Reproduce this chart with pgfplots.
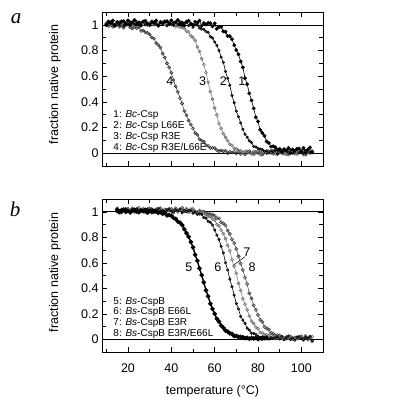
\documentclass[border=0pt]{standalone}
\usepackage{fontspec}
\setmainfont{Liberation Sans}
\newfontfamily\panelfont{Liberation Serif}
\usepackage{pgfplots}
\pgfplotsset{compat=1.18}
\pgfplotsset{
  myaxis/.style={
    scale only axis, width=221pt, height=154pt,
    xmin=8, xmax=110, ymin=-0.1, ymax=1.1,
    xtick={20,40,60,80,100}, minor xtick={10,30,50,70,90},
    ytick={0,0.2,0.4,0.6,0.8,1}, minor ytick={0.1,0.3,0.5,0.7,0.9},
    tick align=inside, major tick length=5pt, minor tick length=3.5pt,
    tick style={black, line width=0.5pt},
    axis line style={line width=0.7pt},
    /pgf/number format/assume math mode=true,
    ticklabel style={font=\fontsize{12.5}{14}\selectfont},
    xticklabel style={yshift=-8pt},
    label style={font=\fontsize{12.5}{14}\selectfont},
    ylabel={fraction native protein},
  },
  c1/.style={black, line width=0.6pt, mark=*, mark size=1.6pt, mark options={solid, fill=black}},
  c2/.style={black, line width=0.6pt, mark=*, mark size=1.2pt, mark options={fill=black!60}},
  c3/.style={black!55, line width=0.5pt, mark=o, mark size=1.5pt, mark options={line width=0.6pt}},
  c4/.style={black!80, line width=0.5pt, mark=o, mark size=1.5pt, mark options={line width=0.6pt}},
  c5/.style={black, line width=1.4pt, mark=*, mark size=1.5pt},
  c6/.style={black, line width=0.6pt, mark=*, mark size=1.2pt, mark options={fill=black!60}},
  c7/.style={black!55, line width=0.5pt, mark=o, mark size=1.5pt, mark options={line width=0.6pt}},
  c8/.style={black!75, line width=0.5pt, mark=o, mark size=1.6pt, mark options={line width=0.6pt}},
}
\begin{document}
\begin{tikzpicture}
\useasboundingbox (0,0) rectangle (396pt,-400pt);
\node[anchor=base, font=\panelfont\itshape\fontsize{21}{24}\selectfont] at (16pt,-23.3pt) {a};
\node[anchor=base, font=\panelfont\itshape\fontsize{21}{24}\selectfont] at (15pt,-216.7pt) {b};

\begin{axis}[myaxis, at={(102pt,-12pt)}, anchor=north west, xticklabels={},
  ylabel style={at={(axis description cs:-0.213,0.53)}, anchor=center}]
\draw[line width=0.6pt] (axis cs:8,0) -- (axis cs:110,0);
\draw[line width=0.6pt] (axis cs:8,1) -- (axis cs:110,1);
% curve 4
\addplot[c4] coordinates {(10,1.008)(11,0.992)(12,1.012)(13,0.985)(14,1.000)(15,1.013)(16,0.985)(17,0.995)(18,0.977)(19,0.998)(20,1.001)(21,0.981)(22,0.972)(23,0.985)(24,0.974)(25,0.982)(26,0.952)(27,0.957)(28,0.942)(29,0.938)(30,0.925)(31,0.901)(32,0.893)(33,0.858)(34,0.842)(35,0.821)(36,0.776)(37,0.746)(38,0.700)(39,0.668)(40,0.626)(41,0.570)(42,0.520)(43,0.478)(44,0.428)(45,0.387)(46,0.328)(47,0.295)(48,0.254)(49,0.223)(50,0.194)(51,0.157)(52,0.143)(53,0.108)(54,0.098)(55,0.089)(56,0.062)(57,0.057)(58,0.040)(59,0.042)(60,0.040)(61,0.024)(62,0.016)(63,0.022)(64,0.015)(65,0.019)(66,0.000)(67,0.011)(68,0.005)(69,0.010)(70,-0.002)(71,0.013)(72,-0.006)(73,0.004)(74,-0.010)(75,0.006)(76,0.015)(77,-0.002)(78,-0.008)(79,0.009)(80,0.002)(81,0.016)(82,-0.012)(83,0.007)(84,0.000)(85,0.011)(86,0.012)(87,-0.004)(88,0.017)(89,-0.008)(90,0.006)(91,0.020)(92,-0.005)(93,0.005)(94,-0.010)(95,0.011)(96,0.016)(97,0.000)(98,-0.006)(99,0.010)(100,0.004)(101,0.018)(102,-0.012)(103,0.009)(104,0.002)(105,0.013)};
% curve 3
\addplot[c3] coordinates {(10,1.014)(11,1.028)(12,1.001)(13,1.012)(14,0.995)(15,1.018)(16,1.023)(17,1.006)(18,1.000)(19,1.017)(20,1.010)(21,1.024)(22,0.993)(23,1.015)(24,1.007)(25,1.019)(26,1.020)(27,1.004)(28,1.025)(29,0.998)(30,1.014)(31,1.028)(32,1.001)(33,1.012)(34,0.995)(35,1.016)(36,1.021)(37,1.003)(38,0.996)(39,1.012)(40,1.001)(41,1.013)(42,0.986)(43,0.992)(44,0.981)(45,0.980)(46,0.971)(47,0.950)(48,0.945)(49,0.915)(50,0.900)(51,0.878)(52,0.828)(53,0.792)(54,0.736)(55,0.690)(56,0.629)(57,0.553)(58,0.480)(59,0.421)(60,0.352)(61,0.298)(62,0.229)(63,0.192)(64,0.151)(65,0.123)(66,0.098)(67,0.069)(68,0.062)(69,0.037)(70,0.035)(71,0.020)(72,0.020)(73,0.007)(74,0.015)(75,0.015)(76,0.004)(77,-0.003)(78,0.014)(79,0.006)(80,0.020)(81,-0.011)(82,0.011)(83,0.003)(84,0.015)(85,0.016)(86,0.000)(87,0.021)(88,-0.006)(89,0.010)(90,0.024)(91,-0.003)(92,0.008)(93,-0.009)(94,0.014)(95,0.019)(96,0.002)(97,-0.004)(98,0.013)(99,0.006)(100,0.020)(101,-0.011)(102,0.011)(103,0.003)(104,0.015)(105,0.016)};
% curve 2
\addplot[c2] coordinates {(10,0.995)(11,1.018)(12,1.023)(13,1.006)(14,1.000)(15,1.017)(16,1.010)(17,1.024)(18,0.993)(19,1.015)(20,1.007)(21,1.019)(22,1.020)(23,1.004)(24,1.025)(25,0.998)(26,1.014)(27,1.028)(28,1.001)(29,1.012)(30,0.995)(31,1.018)(32,1.023)(33,1.006)(34,1.000)(35,1.017)(36,1.010)(37,1.024)(38,0.993)(39,1.015)(40,1.007)(41,1.019)(42,1.020)(43,1.004)(44,1.025)(45,0.995)(46,1.010)(47,1.023)(48,0.994)(49,1.001)(50,0.981)(51,0.999)(52,0.999)(53,0.975)(54,0.966)(55,0.965)(56,0.948)(57,0.941)(58,0.908)(59,0.897)(60,0.866)(61,0.840)(62,0.801)(63,0.749)(64,0.708)(65,0.637)(66,0.584)(67,0.529)(68,0.450)(69,0.393)(70,0.327)(71,0.283)(72,0.236)(73,0.187)(74,0.147)(75,0.124)(76,0.096)(77,0.084)(78,0.052)(79,0.049)(80,0.036)(81,0.033)(82,0.027)(83,0.014)(84,0.018)(85,0.002)(86,0.019)(87,0.012)(88,0.026)(89,-0.005)(90,0.017)(91,0.009)(92,0.021)(93,0.022)(94,0.006)(95,0.027)(96,0.000)(97,0.016)(98,0.030)(99,0.003)(100,0.014)(101,-0.003)(102,0.020)(103,0.025)(104,0.008)(105,0.002)};
% curve 1
\addplot[c1] coordinates {(10,1.002)(11,1.024)(12,1.015)(13,1.033)(14,0.993)(15,1.022)(16,1.011)(17,1.027)(18,1.028)(19,1.007)(20,1.035)(21,0.999)(22,1.020)(23,1.038)(24,1.003)(25,1.018)(26,0.995)(27,1.025)(28,1.032)(29,1.010)(30,1.002)(31,1.024)(32,1.015)(33,1.033)(34,0.993)(35,1.022)(36,1.011)(37,1.027)(38,1.028)(39,1.007)(40,1.035)(41,0.999)(42,1.020)(43,1.038)(44,1.003)(45,1.018)(46,0.995)(47,1.025)(48,1.032)(49,1.010)(50,1.002)(51,1.024)(52,1.015)(53,1.033)(54,0.993)(55,1.014)(56,1.002)(57,1.015)(58,1.013)(59,0.988)(60,1.011)(61,0.969)(62,0.983)(63,0.984)(64,0.949)(65,0.946)(66,0.913)(67,0.911)(68,0.888)(69,0.842)(70,0.803)(71,0.770)(72,0.715)(73,0.669)(74,0.584)(75,0.537)(76,0.466)(77,0.411)(78,0.349)(79,0.280)(80,0.247)(81,0.182)(82,0.158)(83,0.134)(84,0.091)(85,0.079)(86,0.051)(87,0.054)(88,0.046)(89,0.025)(90,0.033)(91,0.009)(92,0.031)(93,0.022)(94,0.040)(95,0.000)(96,0.029)(97,0.018)(98,0.034)(99,0.035)(100,0.014)(101,0.042)(102,0.006)(103,0.027)(104,0.045)(105,0.010)};
\node[font=\fontsize{12.5}{14}\selectfont] at (axis cs:39.3,0.559) {4};
\node[font=\fontsize{12.5}{14}\selectfont] at (axis cs:54.4,0.56) {3};
\node[font=\fontsize{12.5}{14}\selectfont] at (axis cs:64,0.56) {2};
\node[font=\fontsize{12.5}{14}\selectfont] at (axis cs:72.6,0.56) {1};
\node[anchor=base west, font=\fontsize{10}{12}\selectfont] at (rel axis cs:0.036,0.313) {1: \textit{Bc}-Csp};
\node[anchor=base west, font=\fontsize{10}{12}\selectfont] at (rel axis cs:0.036,0.243) {2: \textit{Bc}-Csp L66E};
\node[anchor=base west, font=\fontsize{10}{12}\selectfont] at (rel axis cs:0.036,0.173) {3: \textit{Bc}-Csp R3E};
\node[anchor=base west, font=\fontsize{10}{12}\selectfont] at (rel axis cs:0.036,0.103) {4: \textit{Bc}-Csp R3E/L66E};
\end{axis}

\begin{axis}[myaxis, height=153pt, at={(102pt,-199pt)}, anchor=north west,
  xlabel={temperature (°C)},
  xlabel style={at={(axis description cs:0.5,-0.275)}, anchor=base},
  ylabel style={at={(axis description cs:-0.213,0.52)}, anchor=center}]
\draw[line width=0.6pt] (axis cs:8,0) -- (axis cs:110,0);
\draw[line width=0.6pt] (axis cs:8,1) -- (axis cs:110,1);
% curve 8
\addplot[c8] coordinates {(15,1.026)(16,0.995)(17,1.017)(18,1.009)(19,1.021)(20,1.022)(21,1.006)(22,1.027)(23,1.000)(24,1.016)(25,1.030)(26,1.003)(27,1.014)(28,0.997)(29,1.020)(30,1.025)(31,1.008)(32,1.002)(33,1.019)(34,1.012)(35,1.026)(36,0.995)(37,1.017)(38,1.009)(39,1.021)(40,1.022)(41,1.006)(42,1.027)(43,1.000)(44,1.016)(45,1.030)(46,1.003)(47,1.014)(48,0.997)(49,1.020)(50,1.021)(51,1.002)(52,0.995)(53,1.009)(54,0.999)(55,1.002)(56,0.983)(57,0.989)(58,0.978)(59,0.978)(60,0.969)(61,0.950)(62,0.948)(63,0.917)(64,0.908)(65,0.893)(66,0.852)(67,0.827)(68,0.784)(69,0.754)(70,0.709)(71,0.651)(72,0.594)(73,0.544)(74,0.483)(75,0.433)(76,0.360)(77,0.320)(78,0.267)(79,0.231)(80,0.192)(81,0.152)(82,0.135)(83,0.097)(84,0.085)(85,0.076)(86,0.049)(87,0.044)(88,0.028)(89,0.032)(90,0.028)(91,0.016)(92,0.009)(93,0.016)(94,0.011)(95,0.017)(96,0.002)(97,0.013)(98,0.008)(99,0.015)(100,0.020)(101,0.004)(102,0.025)(103,-0.002)(104,0.014)(105,-0.015)};
% curve 7
\addplot[c7] coordinates {(15,1.023)(16,1.006)(17,1.000)(18,1.017)(19,1.010)(20,1.024)(21,0.993)(22,1.015)(23,1.007)(24,1.019)(25,1.020)(26,1.004)(27,1.025)(28,0.998)(29,1.014)(30,1.028)(31,1.001)(32,1.012)(33,0.995)(34,1.018)(35,1.023)(36,1.006)(37,1.000)(38,1.017)(39,1.010)(40,1.024)(41,0.993)(42,1.015)(43,1.007)(44,1.019)(45,1.020)(46,1.004)(47,1.025)(48,0.998)(49,1.009)(50,1.013)(51,0.996)(52,0.999)(53,0.986)(54,0.993)(55,0.991)(56,0.975)(57,0.963)(58,0.961)(59,0.944)(60,0.935)(61,0.901)(62,0.889)(63,0.856)(64,0.829)(65,0.789)(66,0.736)(67,0.694)(68,0.624)(69,0.572)(70,0.517)(71,0.438)(72,0.383)(73,0.318)(74,0.275)(75,0.230)(76,0.182)(77,0.143)(78,0.123)(79,0.095)(80,0.083)(81,0.052)(82,0.050)(83,0.035)(84,0.034)(85,0.028)(86,0.015)(87,0.022)(88,0.006)(89,0.013)(90,0.019)(91,0.005)(92,0.011)(93,0.003)(94,0.014)(95,0.023)(96,0.006)(97,0.000)(98,0.017)(99,0.010)(100,0.024)(101,-0.007)(102,0.015)(103,0.007)(104,0.019)(105,0.020)};
% curve 6
\addplot[c6] coordinates {(15,0.999)(16,1.010)(17,0.993)(18,1.016)(19,1.021)(20,1.004)(21,0.998)(22,1.015)(23,1.008)(24,1.022)(25,0.991)(26,1.013)(27,1.005)(28,1.017)(29,1.018)(30,1.002)(31,1.023)(32,0.996)(33,1.012)(34,1.026)(35,0.999)(36,1.010)(37,0.993)(38,1.016)(39,1.021)(40,1.004)(41,0.998)(42,1.015)(43,1.008)(44,1.022)(45,0.991)(46,1.010)(47,1.000)(48,1.010)(49,1.008)(50,0.989)(51,0.999)(52,0.980)(53,0.982)(54,0.980)(55,0.955)(56,0.949)(57,0.925)(58,0.918)(59,0.896)(60,0.857)(61,0.817)(62,0.783)(63,0.729)(64,0.677)(65,0.600)(66,0.543)(67,0.471)(68,0.411)(69,0.346)(70,0.280)(71,0.238)(72,0.179)(73,0.150)(74,0.125)(75,0.086)(76,0.071)(77,0.048)(78,0.046)(79,0.038)(80,0.023)(81,0.014)(82,0.019)(83,0.011)(84,0.017)(85,0.001)(86,0.011)(87,0.006)(88,0.013)(89,0.018)(90,0.002)(91,0.023)(92,-0.004)(93,0.012)(94,0.026)(95,-0.001)(96,0.010)(97,-0.007)(98,0.016)(99,0.021)(100,0.004)(101,-0.002)(102,0.015)(103,0.008)(104,0.022)(105,-0.009)};
% curve 5
\addplot[c5] coordinates {(15,1.015)(16,0.997)(17,1.008)(18,1.018)(19,0.999)(20,1.006)(21,0.995)(22,1.011)(23,1.014)(24,1.002)(25,0.998)(26,1.010)(27,1.005)(28,1.015)(29,0.993)(30,1.005)(31,0.998)(32,1.005)(33,1.004)(34,0.991)(35,0.998)(36,0.984)(37,0.993)(38,0.971)(39,0.975)(40,0.969)(41,0.951)(42,0.944)(43,0.923)(44,0.914)(45,0.895)(46,0.864)(47,0.833)(48,0.804)(49,0.763)(50,0.721)(51,0.663)(52,0.616)(53,0.556)(54,0.503)(55,0.446)(56,0.383)(57,0.337)(58,0.279)(59,0.239)(60,0.199)(61,0.161)(62,0.139)(63,0.107)(64,0.090)(65,0.068)(66,0.060)(67,0.046)(68,0.042)(69,0.026)(70,0.025)(71,0.018)(72,0.018)(73,0.016)(74,0.008)(75,0.011)(76,0.004)(77,0.010)(78,0.006)(79,0.011)(80,0.000)(81,0.008)(82,0.005)(83,0.009)(84,0.010)};
\node[font=\fontsize{12.5}{14}\selectfont] at (axis cs:48.1,0.5625) {5};
\node[font=\fontsize{12.5}{14}\selectfont] at (axis cs:61.5,0.5625) {6};
\node[font=\fontsize{12.5}{14}\selectfont] at (axis cs:77.3,0.5625) {8};
\node[font=\fontsize{12.5}{14}\selectfont] at (axis cs:74.8,0.681) {7};
\draw[line width=0.5pt] (axis cs:74,0.648) -- (axis cs:68.3,0.575);
\node[anchor=base west, font=\fontsize{10}{12}\selectfont] at (rel axis cs:0.036,0.313) {5: \textit{Bs}-CspB};
\node[anchor=base west, font=\fontsize{10}{12}\selectfont] at (rel axis cs:0.036,0.243) {6: \textit{Bs}-CspB E66L};
\node[anchor=base west, font=\fontsize{10}{12}\selectfont] at (rel axis cs:0.036,0.173) {7: \textit{Bs}-CspB E3R};
\node[anchor=base west, font=\fontsize{10}{12}\selectfont] at (rel axis cs:0.036,0.103) {8: \textit{Bs}-CspB E3R/E66L};
\end{axis}
\end{tikzpicture}
\end{document}
